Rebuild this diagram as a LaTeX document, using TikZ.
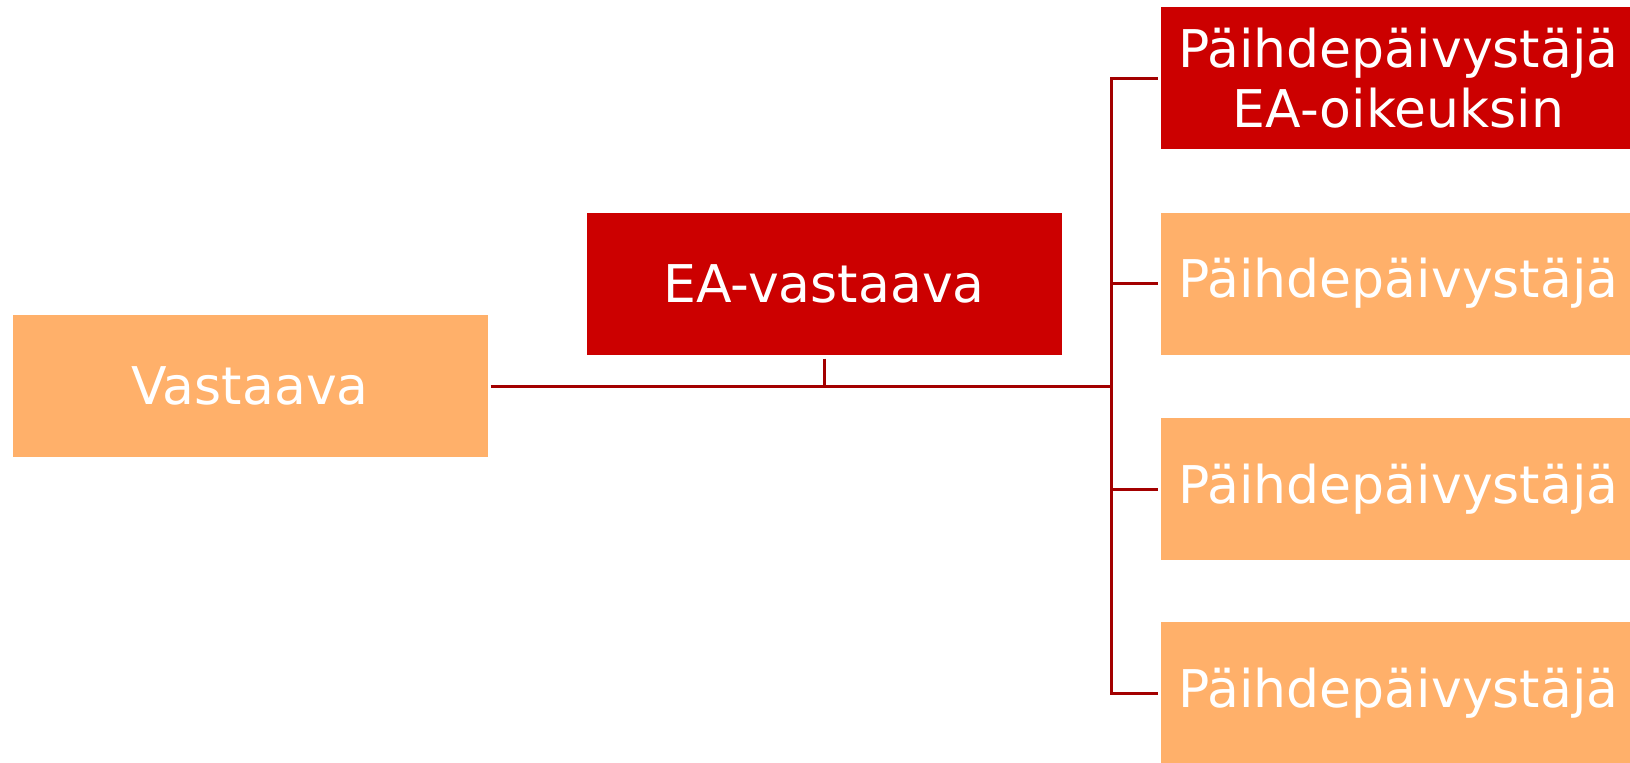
\documentclass[tikz,border=0pt]{standalone}
\usepackage{fontspec}
\setmainfont{DejaVu Sans}
\definecolor{boxorange}{HTML}{FFB06A}
\definecolor{boxred}{HTML}{CC0000}
\definecolor{linered}{HTML}{A30000}
\begin{document}
\begin{tikzpicture}[x=0.5pt,y=-0.5pt,
  box/.style={minimum width=237.5pt,minimum height=71pt,inner sep=0pt,outer sep=0pt,
    text=white,font=\fontsize{26}{30}\selectfont,align=center,anchor=center},
  orangebox/.style={box,fill=boxorange},
  redbox/.style={box,fill=boxred},
  conn/.style={draw=linered,line width=1.5pt}]
\useasboundingbox (0,0) rectangle (1630,762);
\clip (0,0) rectangle (1630,762);
\fill[white] (0,0) rectangle (1630,762);
\node[orangebox] (v) at (250,386) {Vastaava};
\node[redbox] (ea) at (824,283.5) {EA-vastaava};
\node[redbox] (p1) at (1398.5,78) {Päihdepäivystäjä\\EA-oikeuksin};
\node[orangebox] (p2) at (1398.5,283.5) {Päihdepäivystäjä};
\node[orangebox] (p3) at (1398.5,489) {Päihdepäivystäjä};
\node[orangebox] (p4) at (1398.5,693) {Päihdepäivystäjä};
\coordinate (bus) at (1111,386);
\draw[conn,shorten <=1.5pt] (v.east) -- (bus);
\draw[conn,shorten <=2pt] (ea.south) -- (ea.south |- bus);
\draw[conn,line cap=rect] (bus |- p1.west) -- (bus |- p4.west);
\foreach \p in {p1,p2,p3,p4}{
  \draw[conn,shorten >=1.5pt] (bus |- \p.west) -- (\p.west);
}
\end{tikzpicture}
\end{document}
